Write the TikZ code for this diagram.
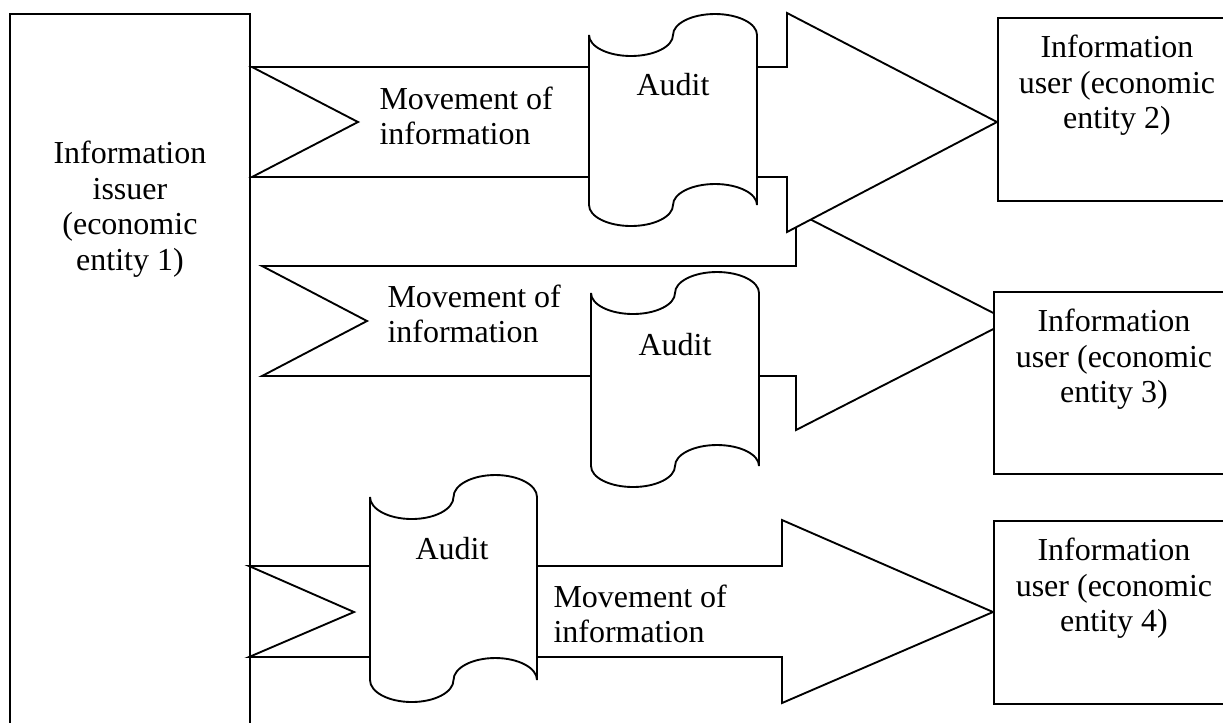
\documentclass[tikz,border=0pt]{standalone}
\usepackage{fontspec}
\setmainfont{Liberation Serif}
\usetikzlibrary{positioning}

\begin{document}
\begin{tikzpicture}[
    x=0.4pt, y=-0.4pt,
    node distance=7pt,
    every node/.style={font=\fontsize{12.8}{14.2}\selectfont, inner sep=0pt},
    entity/.style={draw, line width=0.75pt, fill=white, rectangle, anchor=north west},
    boxtext/.style={align=center, anchor=north},
    movetext/.style={align=left, anchor=north west},
    blockarrow/.style={draw, line width=0.75pt, fill=white, line join=miter},
    scrollshape/.style={draw, line width=0.75pt, fill=white}
]
\useasboundingbox (0,0) rectangle (1223,722);

\node[entity, minimum width=96pt, minimum height=287pt] (issuer) at (9,13) {};
\node[boxtext, below=51pt of issuer.north] (issuertext) {Information\\issuer\\(economic\\entity 1)};

\draw[blockarrow] (262,266) -- (796,266) -- (796,212) -- (1009,321) -- (796,430) -- (796,376) -- (262,376) -- (367,321) -- cycle;
\draw[blockarrow] (252,67) -- (787,67) -- (787,13) -- (997,122) -- (787,232) -- (787,177) -- (252,177) -- (358,122) -- cycle;
\draw[blockarrow] (249,566) -- (782,566) -- (782,520) -- (993,612) -- (782,703) -- (782,657) -- (249,657) -- (354,612) -- cycle;

\draw[scrollshape] (589,35) arc[start angle=180, end angle=0, x radius=42, y radius=21]
    arc[start angle=180, end angle=360, x radius=42, y radius=21] -- (757,205)
    arc[start angle=0, end angle=-180, x radius=42, y radius=21]
    arc[start angle=0, end angle=180, x radius=42, y radius=21] -- cycle;
\draw[scrollshape] (591,293) arc[start angle=180, end angle=0, x radius=42, y radius=21]
    arc[start angle=180, end angle=360, x radius=42, y radius=21] -- (759,466)
    arc[start angle=0, end angle=-180, x radius=42, y radius=21]
    arc[start angle=0, end angle=180, x radius=42, y radius=21] -- cycle;
\draw[scrollshape] (370,497) arc[start angle=180, end angle=0, x radius=41.75, y radius=22]
    arc[start angle=180, end angle=360, x radius=41.75, y radius=22] -- (537,680)
    arc[start angle=0, end angle=-180, x radius=41.75, y radius=22]
    arc[start angle=0, end angle=180, x radius=41.75, y radius=22] -- cycle;

\node[anchor=base] (audit1) at (673,95) {Audit};
\node[anchor=base] (audit2) at (675,355) {Audit};
\node[anchor=base] (audit3) at (452,559) {Audit};

\node[movetext] (move1) at (379,86) {Movement of\\information};
\node[movetext] (move2) at (387,284) {Movement of\\information};
\node[movetext] (move3) at (553,584) {Movement of\\information};

\node[entity, minimum width=95.2pt, minimum height=73.2pt] (user2) at (997,17) {};
\node[entity, minimum width=96pt, minimum height=72.8pt] (user3) at (993,291) {};
\node[entity, minimum width=96pt, minimum height=73.2pt] (user4) at (993,520) {};
\node[boxtext, below=of user2.north] (user2text) {Information\\user (economic\\entity 2)};
\node[boxtext, below=of user3.north] (user3text) {Information\\user (economic\\entity 3)};
\node[boxtext, below=of user4.north] (user4text) {Information\\user (economic\\entity 4)};

\end{tikzpicture}
\end{document}
